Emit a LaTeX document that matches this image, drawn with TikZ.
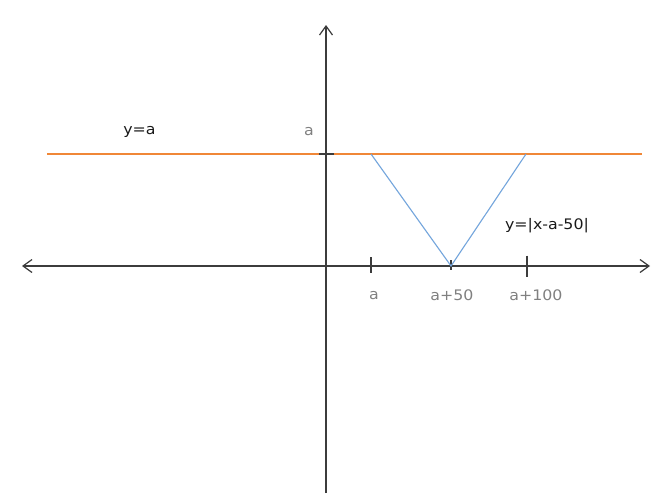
\documentclass[tikz,border=0pt]{standalone}
\usepackage{fontspec}
\setmainfont[FakeStretch=1.09]{DejaVu Sans}
\usetikzlibrary{arrows.meta}
\definecolor{axisc}{RGB}{60,60,60}
\definecolor{orangec}{RGB}{240,135,55}
\definecolor{bluec}{RGB}{115,165,220}
\definecolor{grayt}{RGB}{128,128,128}
\definecolor{blackt}{RGB}{25,25,25}
\tikzset{
  axis/.style={draw=axisc, line width=1.4pt},
  barb/.style={-{Straight Barb[length=9pt,width=13pt,line width=1.2pt]}},
  tick/.style={draw=axisc, line width=1.4pt},
  hline/.style={draw=orangec, line width=1.1pt},
  vline/.style={draw=bluec, line width=1.1pt},
  glabel/.style={text=grayt, inner sep=0pt, anchor=base, font=\fontsize{14.5}{17}\selectfont},
  blabel/.style={text=blackt, inner sep=0pt, anchor=base, font=\fontsize{14.5}{17}\selectfont}
}
\begin{document}
\begin{tikzpicture}[x=1pt,y=-1pt]
\useasboundingbox[fill=white] (0,0) rectangle (660,493);
% axes
\coordinate (xl) at (22,266);
\coordinate (xr) at (650,266);
\coordinate (yb) at (326,493);
\coordinate (yt) at (326,25);
\draw[axis, {Straight Barb[length=9pt,width=13pt,line width=1.2pt]}-{Straight Barb[length=9pt,width=13pt,line width=1.2pt]}] (xl) -- (xr);
\draw[axis, barb] (yb) -- (yt);
% y = a line
\coordinate (hl) at (47,154);
\coordinate (hr) at (642,154);
\draw[hline] (hl) -- (hr);
% tick on y axis
\coordinate (ty1) at (319,154);
\coordinate (ty2) at (334,154);
\draw[tick] (ty1) -- (ty2);
% ticks on x axis
\coordinate (ta1) at (371,257);
\coordinate (ta2) at (371,273);
\draw[tick] (ta1) -- (ta2);
\coordinate (tb1) at (451,260);
\coordinate (tb2) at (451,270);
\draw[tick] (tb1) -- (tb2);
\coordinate (tc1) at (527,255.5);
\coordinate (tc2) at (527,277);
\draw[tick] (tc1) -- (tc2);
% V
\coordinate (v1) at (371,154);
\coordinate (v2) at (451,266);
\coordinate (v3) at (526,154);
\draw[vline, line join=miter] (v1) -- (v2) -- (v3);
% labels
\node[glabel] (la) at (309,135) {a};
\node[blabel] (lya) at (139.5,134) {y=a};
\node[blabel] (lyv) at (547,229.5) {y=|x-a-50|};
\node[glabel] (lxa) at (374,299) {a};
\node[glabel] (lxb) at (452,300.5) {a+50};
\node[glabel] (lxc) at (536,300.5) {a+100};
\end{tikzpicture}
\end{document}
